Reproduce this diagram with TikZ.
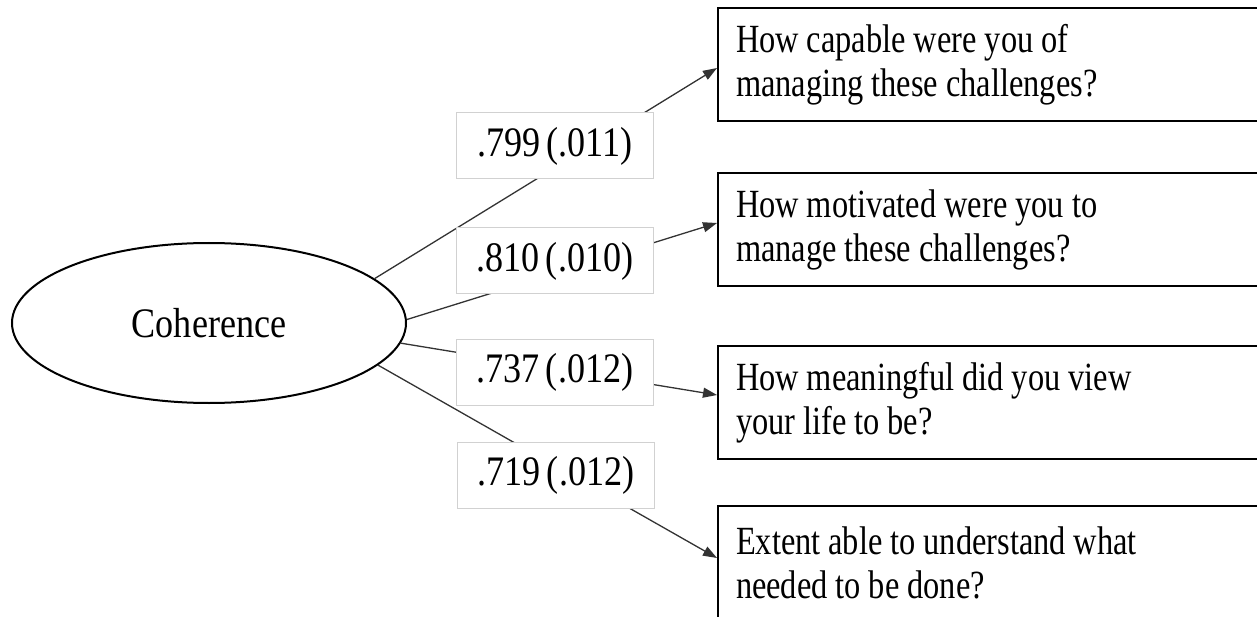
\documentclass[tikz,border=0pt]{standalone}
\usepackage{fontspec}
\setmainfont{Liberation Serif}
\newfontfamily\itemfont[FakeStretch=0.81]{Liberation Serif}
\newfontfamily\labelfont[FakeStretch=0.86]{Liberation Serif}
\usetikzlibrary{arrows.meta,shapes.geometric,calc}
\begin{document}
\begin{tikzpicture}[x=1pt,y=-1pt,
  latent/.style={ellipse,draw=black,line width=2pt,minimum width=394pt,
    minimum height=160pt,inner sep=0pt,font=\labelfont\fontsize{42}{46}\selectfont},
  item/.style={draw=black,line width=2pt,anchor=north west,minimum width=700pt,
    minimum height=113pt,text width=664pt,inner xsep=15pt,align=left,
    font=\itemfont\fontsize{40}{44}\selectfont,
    execute at begin node={\spaceskip=8pt\xspaceskip=8pt\relax}},
  loading/.style={draw=black!18,line width=1pt,fill=white,minimum width=197pt,
    minimum height=66pt,inner sep=0pt,font=\labelfont\fontsize{42}{46}\selectfont,
    execute at begin node={\spaceskip=6pt\xspaceskip=6pt\relax}},
  link/.style={draw=black!80,line width=1.3pt,-{Triangle[length=14pt,width=10pt]}}
]
\useasboundingbox (0,0) rectangle (1257,617);

% latent factor
\node[latent] (coh) at (209,323) {Coherence};

% indicator items
\node[item] (box1) at (717,7)   {How capable were you of\\managing these challenges?};
\node[item] (box2) at (717,172) {How motivated were you to\\manage these challenges?};
\node[item] (box3) at (717,345) {How meaningful did you view\\your life to be?};
\node[item] (box4) at (717,505) {Extent able to understand what\\needed to be done?};

% factor loadings
\draw[link] (coh.15)  -- ($(box1.west)+(0,3.5)$);
\draw[link] (coh.1)   -- ($(box2.west)+(0,-6.5)$);
\draw[link] (coh.354) -- ($(box3.west)+(0,-7.5)$);
\draw[link] (coh.346) -- ($(box4.west)+(0,-4.5)$);

% loading estimates (standard errors)
\node[loading] (l1) at (555,146) {.799 (.011)};
\node[loading] (l2) at (555,261) {.810 (.010)};
\node[loading] (l3) at (555,372) {.737 (.012)};
\node[loading] (l4) at (556,475) {.719 (.012)};
\end{tikzpicture}
\end{document}
